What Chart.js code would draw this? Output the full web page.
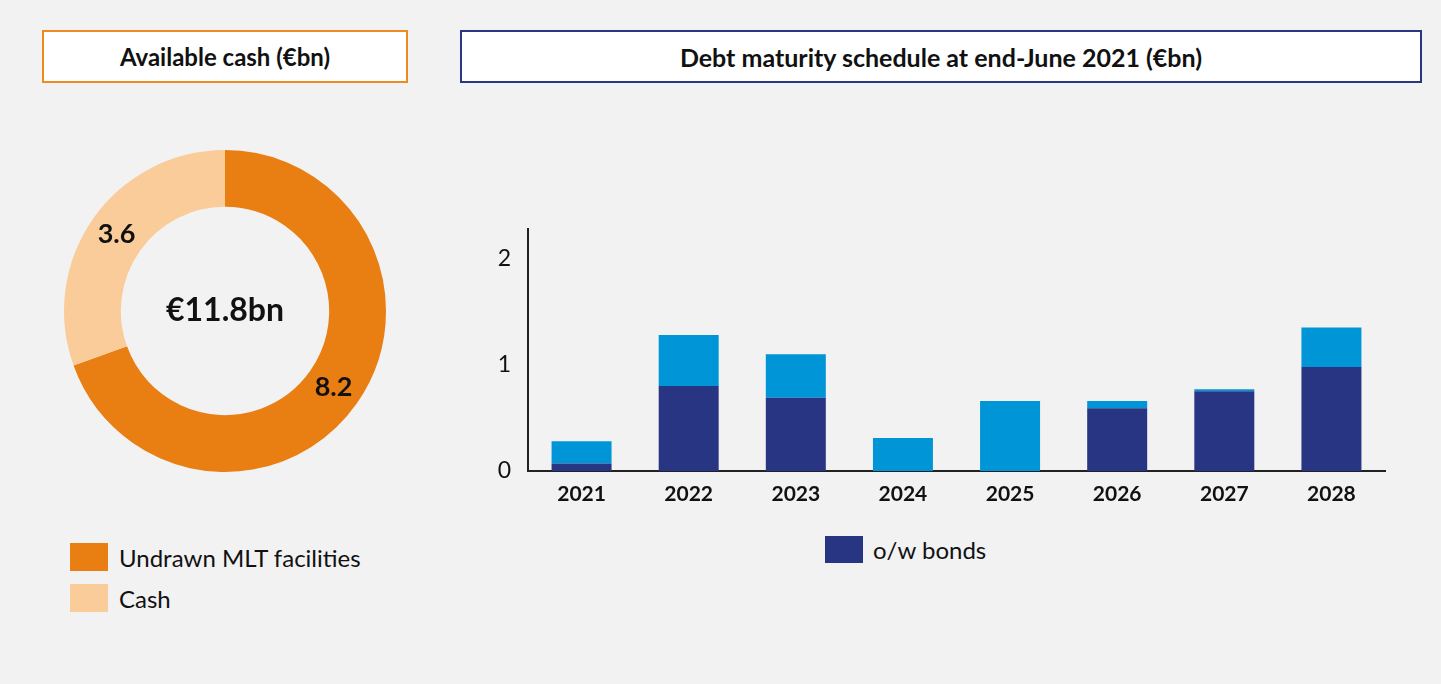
<!DOCTYPE html>
<html>
<head>
<meta charset="utf-8">
<script src="https://cdn.jsdelivr.net/npm/chart.js@4"></script>
<style>
    html, body { margin: 0; padding: 0; }
    body {
        width: 1441px; height: 684px; background: #f2f2f2;
        position: relative; overflow: hidden;
        font-family: Lato, 'Noto Sans', sans-serif; color: #111;
    }
    .header {
        position: absolute; top: 30px; height: 49px; background: #fff;
        display: flex; align-items: center; justify-content: center;
        font-weight: bold; font-size: 24px; color: #111;
    }
    #hdr-cash { left: 42px; width: 362px; border: 2px solid #ee8a1e; }
    #hdr-debt { left: 460px; width: 958px; border: 2px solid #2a3583; font-size: 25px; }
    canvas { position: absolute; }
    #cashChart { left: 64px; top: 150px; }
    #debtChart { left: 460px; top: 206px; }
    .legend { position: absolute; }
    .legend-item { display: flex; align-items: center; height: 28px; margin-bottom: 13px; font-size: 24px; }
    .legend-item span.box { width: 38px; height: 28px; margin-right: 11px; flex-shrink: 0; }
    #cashLegend { left: 70px; top: 543px; }
    #debtLegend { left: 825px; top: 536px; }
    #debtLegend .legend-item { height: 27px; }
    #debtLegend .legend-item span.box { height: 27px; margin-right: 10px; }
</style>
</head>
<body>

<div class="header" id="hdr-cash">Available cash (€bn)</div>
<div class="header" id="hdr-debt">Debt maturity schedule at end-June 2021 (€bn)</div>

<canvas id="cashChart" width="322" height="322"></canvas>
<canvas id="debtChart" width="940" height="309"></canvas>

<div class="legend" id="cashLegend"></div>
<div class="legend" id="debtLegend"></div>

<script>
// Available cash (doughnut)
const cashLabels = ['Undrawn MLT facilities', 'Cash'];
const cashValues = [8.2, 3.6];
const cashColors = ['#e97e13', '#f9cc9a'];

// Debt maturity schedule (stacked bars)
const years = ['2021', '2022', '2023', '2024', '2025', '2026', '2027', '2028'];
const bondValues = [0.07, 0.80, 0.69, 0, 0, 0.59, 0.75, 0.98];
const otherDebtValues = [0.21, 0.48, 0.41, 0.31, 0.66, 0.07, 0.02, 0.37];
const yTicks = [0, 1, 2];

const bondColor = '#283583';
const otherColor = '#0095d6';
const fontFamily = "Lato, 'Noto Sans', sans-serif";

// labels on the arcs + total in the middle
const doughnutText = {
    id: 'doughnutText',
    afterDatasetsDraw(chart) {
        const ctx = chart.ctx;
        const meta = chart.getDatasetMeta(0);
        ctx.save();
        ctx.fillStyle = '#111';
        ctx.textAlign = 'center';
        ctx.textBaseline = 'middle';
        ctx.font = 'bold 27px ' + fontFamily;
        meta.data.forEach((arc, i) => {
            const pos = arc.tooltipPosition();
            ctx.fillText(cashValues[i].toFixed(1), pos.x, pos.y);
        });
        const total = cashValues.reduce((a, b) => a + b, 0);
        const arc0 = meta.data[0];
        ctx.font = 'bold 32px ' + fontFamily;
        ctx.fillText('€' + total.toFixed(1) + 'bn', arc0.x, arc0.y);
        ctx.restore();
    }
};

new Chart(document.getElementById('cashChart'), {
    type: 'doughnut',
    data: {
        labels: cashLabels,
        datasets: [{
            data: cashValues,
            backgroundColor: cashColors,
            borderWidth: 0
        }]
    },
    options: {
        responsive: false,
        animation: false,
        cutout: '64.7%',
        plugins: {
            legend: { display: false },
            tooltip: { enabled: false }
        }
    },
    plugins: [doughnutText]
});

new Chart(document.getElementById('debtChart'), {
    type: 'bar',
    data: {
        labels: years,
        datasets: [
            {
                label: 'o/w bonds',
                data: bondValues,
                backgroundColor: bondColor,
                borderWidth: 0
            },
            {
                label: 'Other debt',
                data: otherDebtValues,
                backgroundColor: otherColor,
                borderWidth: 0
            }
        ]
    },
    options: {
        responsive: false,
        animation: false,
        layout: { padding: { top: 0, right: 15, left: 0, bottom: 0 } },
        datasets: {
            bar: { categoryPercentage: 1, barPercentage: 0.56 }
        },
        plugins: {
            legend: { display: false },
            tooltip: { enabled: false }
        },
        scales: {
            x: {
                stacked: true,
                grid: { display: false },
                border: { display: true, color: '#222', width: 2 },
                ticks: {
                    color: '#111',
                    padding: 3,
                    font: { family: fontFamily, size: 21, weight: 'bold' }
                },
                afterFit: function(scale) { scale.height = 44; }
            },
            y: {
                stacked: true,
                min: 0,
                max: 2.28,
                grid: { display: false },
                border: { display: true, color: '#222', width: 2 },
                ticks: {
                    color: '#111',
                    padding: 9,
                    font: { family: fontFamily, size: 23 }
                },
                afterBuildTicks: function(scale) {
                    scale.ticks = yTicks.map(v => ({ value: v }));
                },
                afterFit: function(scale) { scale.width = 68; }
            }
        }
    }
});

// legends
function buildLegend(id, labels, colors) {
    const el = document.getElementById(id);
    labels.forEach((label, i) => {
        const item = document.createElement('div');
        item.className = 'legend-item';
        item.innerHTML = '<span class="box" style="background:' + colors[i] + '"></span>' + label;
        el.appendChild(item);
    });
}
buildLegend('cashLegend', cashLabels, cashColors);
buildLegend('debtLegend', ['o/w bonds'], [bondColor]);
</script>
</body>
</html>
